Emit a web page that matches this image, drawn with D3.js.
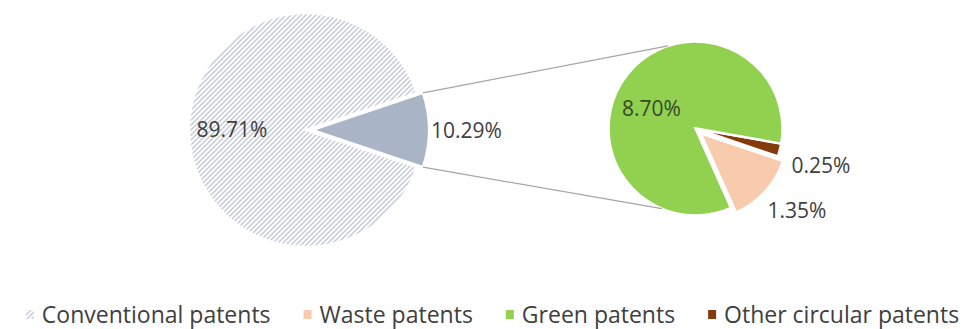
<!DOCTYPE html>
<html>
<head>
<meta charset="utf-8">
<script src="https://cdn.jsdelivr.net/npm/d3@7.9.0/dist/d3.min.js"></script>
<style>
  body { margin: 0; background: #fff; }
  svg { display: block; font-family: "Open Sans", sans-serif; }
</style>
</head>
<body>
<svg id="chart" width="973" height="329"></svg>
<script>
// main pie: conventional vs everything circular/green (10.29%)
const mainLabels = ['Conventional patents', 'Circular & green'];
const mainValues = [89.71, 10.29];
// secondary pie splits the 10.29%
const subLabels = ['Other circular patents', 'Waste patents', 'Green patents'];
const subValues = [0.25, 1.35, 8.70];
const legendLabels = ['Conventional patents', 'Waste patents', 'Green patents', 'Other circular patents'];

const colors = {
  'Circular & green': '#a9b4c7',
  'Other circular patents': '#843c0c',
  'Waste patents': '#f8cbad',
  'Green patents': '#92d050'
};

const svg = d3.select('#chart');
const deg = Math.PI / 180;

// hatch for conventional patents
const defs = svg.append('defs');
defs.append('pattern')
  .attr('id', 'hatch')
  .attr('patternUnits', 'userSpaceOnUse')
  .attr('width', 5).attr('height', 5)
  .call(p => {
    p.append('rect').attr('width', 5).attr('height', 5).attr('fill', '#fff');
    p.append('path')
      .attr('d', 'M-1,1 l2,-2 M0,5 l5,-5 M4,6 l2,-2')
      .attr('stroke', '#c4cbd7').attr('stroke-width', 1.5);
  });

// ---- left pie
const L = { cx: 306, cy: 130, r: 117 };
const wedgeSpan = mainValues[1] / d3.sum(mainValues) * 360;
const mainPie = d3.pie().sort(null).value(d => d)
  .startAngle((90 + wedgeSpan / 2) * deg)
  .endAngle((90 + wedgeSpan / 2 + 360) * deg);
const mainArcs = mainPie(mainValues);
const mainArc = d3.arc().innerRadius(0).outerRadius(L.r);
const explodeL = 6;

const gL = svg.append('g').attr('transform', `translate(${L.cx},${L.cy})`);
gL.selectAll('path').data(mainArcs).join('path')
  .attr('d', mainArc)
  .attr('transform', (d, i) => i === 1 ? `translate(${explodeL},0)` : null)
  .attr('fill', (d, i) => i === 0 ? 'url(#hatch)' : colors[mainLabels[i]])
  .attr('stroke', '#fff').attr('stroke-width', 2.5);

// ---- right pie
const R = { cx: 695.5, cy: 128.5, r: 87 };
const subPie = d3.pie().sort(null).value(d => d)
  .startAngle(100 * deg).endAngle(460 * deg);
const subArcs = subPie(subValues);
const subArc = d3.arc().innerRadius(0).outerRadius(R.r);
const explodeR = 7;
const offset = (d, amt) => {
  const a = (d.startAngle + d.endAngle) / 2;
  return [Math.sin(a) * amt, -Math.cos(a) * amt];
};

const gR = svg.append('g').attr('transform', `translate(${R.cx},${R.cy})`);
gR.selectAll('path').data(subArcs).join('path')
  .attr('d', subArc)
  .attr('transform', (d, i) => {
    const [dx, dy] = offset(d, subLabels[i] === 'Waste patents' ? explodeR : 0);
    return `translate(${dx},${dy})`;
  })
  .attr('fill', (d, i) => colors[subLabels[i]])
  .attr('stroke', '#fff').attr('stroke-width', 2.5);

// ---- connector lines
const wedge = mainArcs[1];
const pt = (c, r, a, ox = 0) => [c.cx + ox + Math.sin(a) * r, c.cy - Math.cos(a) * r];
const lines = [
  [pt(L, L.r, wedge.startAngle, explodeL), pt(R, R.r, -18.4 * deg)],
  [pt(L, L.r, wedge.endAngle, explodeL), pt(R, R.r, 202.8 * deg)]
];
svg.append('g').selectAll('line').data(lines).join('line')
  .attr('x1', d => d[0][0]).attr('y1', d => d[0][1])
  .attr('x2', d => d[1][0]).attr('y2', d => d[1][1])
  .attr('stroke', '#a6a6a6').attr('stroke-width', 1.2);

// ---- data labels
const fmt = v => v.toFixed(2) + '%';
const labels = [];
{
  const a = (mainArcs[0].startAngle + mainArcs[0].endAngle) / 2;
  labels.push({ text: fmt(mainValues[0]), x: L.cx + Math.sin(a) * 74, y: L.cy - Math.cos(a) * 74, anchor: 'middle' });
  labels.push({ text: fmt(mainValues[1]), x: L.cx + L.r + explodeL + 2, y: L.cy + 1, anchor: 'start' });
  // green label inside
  labels.push({ text: fmt(subValues[2]), x: R.cx - 44, y: R.cy - 20, anchor: 'middle' });
  // small slices outside
  labels.push({ text: fmt(subValues[0]), x: R.cx + R.r + 9, y: R.cy + 37, anchor: 'start' });
  labels.push({ text: fmt(subValues[1]), x: R.cx + 72, y: R.cy + 82, anchor: 'start' });
}
svg.append('g').selectAll('text').data(labels).join('text')
  .attr('x', d => d.x).attr('y', d => d.y)
  .attr('dy', '0.35em')
  .attr('text-anchor', d => d.anchor)
  .attr('font-size', 21)
  .attr('fill', (d, i) => i === 2 ? '#354a26' : '#404040')
  .text(d => d.text);

// ---- legend
const legendColor = name => name === 'Conventional patents' ? 'url(#hatch)' : colors[name];
const lg = svg.append('g').attr('font-size', 23).attr('fill', '#404040');
const items = lg.selectAll('g').data(legendLabels).join('g');
items.append('rect')
  .attr('x', 0).attr('y', -5).attr('width', 8).attr('height', 9)
  .attr('fill', legendColor);
items.append('text')
  .attr('x', 16).attr('dy', '0.35em')
  .text(d => d);
let x = 0;
const gap = 33;
items.each(function () {
  const w = 16 + d3.select(this).select('text').node().getComputedTextLength();
  d3.select(this).attr('transform', `translate(${x},0)`);
  x += w + gap;
});
const total = x - gap;
lg.attr('transform', `translate(${492.5 - total / 2},315)`);
</script>
</body>
</html>
